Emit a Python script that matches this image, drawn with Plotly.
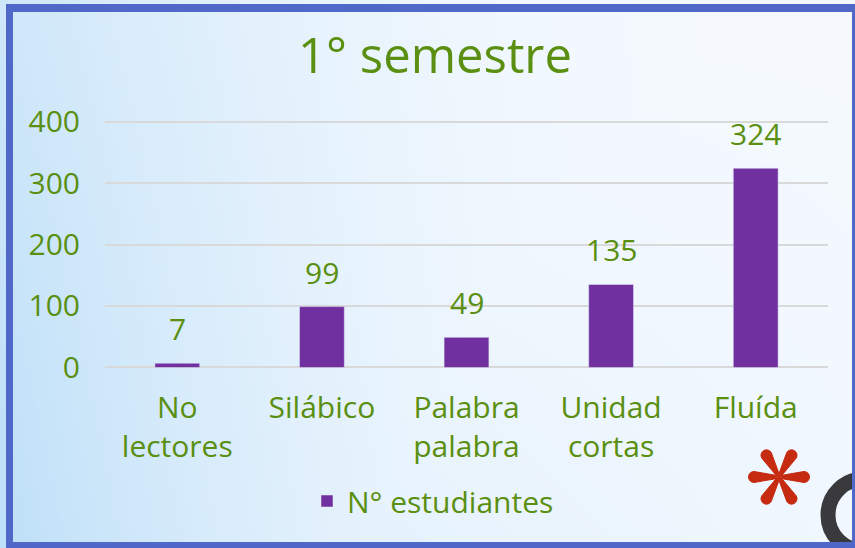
import base64
import math
import struct
import zlib

import plotly.graph_objects as go

# ---------------------------------------------------------------------
# datos
# ---------------------------------------------------------------------
categorias = ["No<br>lectores", "Silábico", "Palabra<br>palabra", "Unidad<br>cortas", "Fluída"]
estudiantes = [7, 99, 49, 135, 324]
serie = "N° estudiantes"
titulo = "1° semestre"
ticks_y = [0, 100, 200, 300, 400]

W, H = 855, 548
# el rango va un poco más allá de 0..400 para que plotly dibuje las rejillas de los extremos
Y0, Y1 = -2.5, 402.5
esc = 245 / 400
L, R = 105, 27
T = int(round(122 - (Y1 - 400) * esc))
B = int(round(548 - 367 - (0 - Y0) * esc))
PW, PH = W - L - R, H - T - B

VERDE = "#5a8f11"
MORADO = "#7030a0"
AZUL_BORDE = "#5068c8"
ROJO = "#c62a10"
FUENTE = "Open Sans"


def px(x):
    return (x - L) / PW


def py(y):
    return (H - B - y) / PH


def fondo_png(w=214, h=137):
    """Degradado celeste -> blanco, como el fondo de la diapositiva."""
    azul = (190, 224, 248)
    blanco = (246, 250, 255)
    filas = []
    for j in range(h):
        v = j / (h - 1)
        fila = bytearray(b"\x00")
        for i in range(w):
            u = i / (w - 1)
            t = max((1 - u) ** 2.2 * (0.7 + 0.3 * v), 0.45 * v * (1 - 0.8 * u))
            t = max(0.0, min(1.0, t))
            fila += bytes(int(blanco[k] + (azul[k] - blanco[k]) * t) for k in range(3))
        filas.append(bytes(fila))

    def chunk(tipo, datos):
        c = struct.pack(">I", len(datos)) + tipo + datos
        return c + struct.pack(">I", zlib.crc32(tipo + datos) & 0xFFFFFFFF)

    png = b"\x89PNG\r\n\x1a\n"
    png += chunk(b"IHDR", struct.pack(">IIBBBBB", w, h, 8, 2, 0, 0, 0))
    png += chunk(b"IDAT", zlib.compress(b"".join(filas), 9))
    png += chunk(b"IEND", b"")
    return "data:image/png;base64," + base64.b64encode(png).decode()


def asterisco(cx, cy, largo=25, punta=5.5):
    """Seis pétalos en gota, en coordenadas paper."""
    partes = []
    for k in range(6):
        a = math.radians(60 * k)
        tx, ty = cx + largo * math.cos(a), cy - largo * math.sin(a)
        pts = [(cx + 1.2 * math.cos(a + math.pi / 2), cy - 1.2 * math.sin(a + math.pi / 2))]
        for s in range(13):
            b = a + math.pi / 2 - math.pi * s / 12
            pts.append((tx + punta * math.cos(b), ty - punta * math.sin(b)))
        pts.append((cx + 1.2 * math.cos(a - math.pi / 2), cy - 1.2 * math.sin(a - math.pi / 2)))
        partes.append("M" + " L".join(f"{px(x):.5f},{py(y):.5f}" for x, y in pts) + " Z")
    return " ".join(partes)


fig = go.Figure(go.Bar(
    x=categorias, y=estudiantes, name=serie,
    marker_color=MORADO, showlegend=True,
))

# etiquetas de datos sobre las barras
for c, v in zip(categorias, estudiantes):
    fig.add_annotation(x=c, y=v, text=str(v), showarrow=False, yanchor="bottom",
                       yshift=12, font=dict(family=FUENTE, size=30, color=VERDE))

formas = [
    # logo cortado abajo a la derecha
    dict(type="circle", xref="paper", yref="paper", x0=px(828), x1=px(900),
         y0=py(479), y1=py(551), line=dict(color="#3a3a3c", width=15)),
    # asterisco rojo
    dict(type="path", xref="paper", yref="paper", path=asterisco(779, 477),
         fillcolor=ROJO, line=dict(color=ROJO, width=1)),
    # marco azul
    dict(type="rect", xref="paper", yref="paper", x0=px(6), x1=px(13), y0=py(4), y1=py(548),
         fillcolor=AZUL_BORDE, line_width=0),
    dict(type="rect", xref="paper", yref="paper", x0=px(6), x1=px(855), y0=py(4), y1=py(12),
         fillcolor=AZUL_BORDE, line_width=0),
    dict(type="rect", xref="paper", yref="paper", x0=px(852), x1=px(855), y0=py(4), y1=py(548),
         fillcolor=AZUL_BORDE, line_width=0),
    dict(type="rect", xref="paper", yref="paper", x0=px(6), x1=px(855), y0=py(542), y1=py(548),
         fillcolor=AZUL_BORDE, line_width=0),
]

fig.update_layout(
    width=W, height=H,
    margin=dict(l=L, r=R, t=T, b=B, autoexpand=False),
    paper_bgcolor="#e8f3fc", plot_bgcolor="rgba(0,0,0,0)",
    font=dict(family=FUENTE, color=VERDE, size=30),
    bargap=0.69,
    title=dict(text=titulo, x=435 / W, xanchor="center", y=1 - 56 / H, yanchor="middle",
               font=dict(family=FUENTE, size=49, color=VERDE)),
    xaxis=dict(showgrid=False, showline=False, ticks="", ticklabelstandoff=18,
               tickfont=dict(size=30, color=VERDE)),
    yaxis=dict(range=[Y0, Y1], tickvals=ticks_y, showgrid=True, gridcolor="#d9d9d9",
               gridwidth=2, zeroline=False, showline=False, ticklabelstandoff=24,
               tickfont=dict(size=30, color=VERDE)),
    legend=dict(orientation="h", x=px(307), xanchor="left", y=py(475), yanchor="top",
                bgcolor="rgba(0,0,0,0)", font=dict(size=30, color=VERDE)),
    shapes=formas,
    images=[dict(source=fondo_png(), xref="paper", yref="paper", x=px(0), y=py(0),
                 sizex=W / PW, sizey=H / PH, xanchor="left", yanchor="top",
                 sizing="stretch", layer="below")],
)

fig.write_html("out.html", config={"displayModeBar": False},
               post_script="document.body.style.margin='0';")
